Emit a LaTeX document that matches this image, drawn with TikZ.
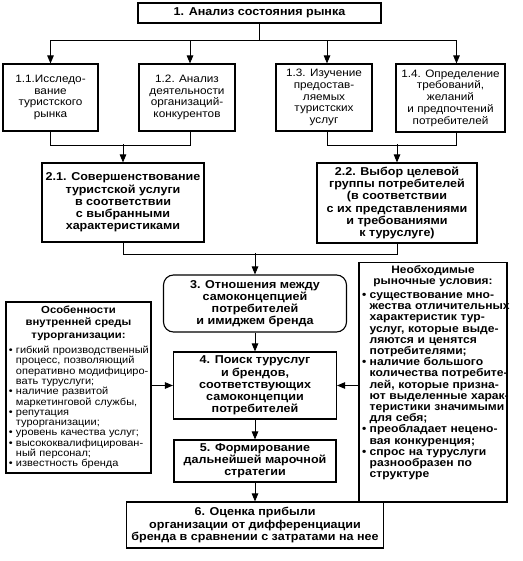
\documentclass[tikz,border=0pt]{standalone}
\usepackage{fontspec}
\setmainfont[FakeStretch=1.1]{Liberation Sans}
\usetikzlibrary{arrows.meta}
\newcommand{\bul}[1]{\mbox{\makebox[0.7em][l]{\textbullet}#1}}
\newcommand{\cnt}[1]{\mbox{\hspace*{0.7em}#1}}

\begin{document}
\begin{tikzpicture}[x=1pt,y=-1pt,>={Triangle[length=8pt,width=6.5pt]},line width=0.9pt]
\tikzstyle{box}=[draw,line width=1.1pt,align=center,inner sep=2pt]
\tikzstyle{sub}=[box,font=\fontsize{10.7}{11.7}\selectfont]
\tikzstyle{main}=[box,font=\fontsize{11.4}{12.2}\selectfont\bfseries]
\tikzstyle{side}=[box,align=left,inner xsep=3pt]
\useasboundingbox (0,0) rectangle (522,561);
\node[main,minimum width=243pt,minimum height=20pt] (an) at (259.5,13) {1. Анализ состояния рынка};
\node[sub,minimum width=95pt,minimum height=67pt] (res) at (50.5,97.5) {1.1.Исследо-\\вание\\туристского\\рынка};
\node[sub,minimum width=96pt,minimum height=67pt] (comp) at (187,97.5) {1.2. Анализ\\деятельности\\организаций-\\конкурентов};
\node[sub,minimum width=96pt,minimum height=67pt] (serv) at (324,97.5) {1.3. Изучение\\предостав-\\ляемых\\туристских\\услуг};
\node[sub,minimum width=109pt,minimum height=68pt] (req) at (450.5,98) {1.4. Определение\\требований,\\желаний\\и предпочтений\\потребителей};
\node[main,minimum width=162pt,minimum height=79pt] (impr) at (123,202.5) {2.1. Совершенствование\\туристской услуги\\в соответствии\\с выбранными\\характеристиками};
\node[main,minimum width=160pt,minimum height=80pt] (tgt) at (397,203) {2.2. Выбор целевой\\группы потребителей\\(в соответствии\\с их представлениями\\и требованиями\\к туруслуге)};
\node[main,rounded corners=10pt,minimum width=183pt,minimum height=57pt] (rel) at (255,303.5) {3. Отношения между\\самоконцепцией\\потребителей\\и имиджем бренда};
\node[main,minimum width=163pt,minimum height=67pt] (srch) at (255,385.5) {4. Поиск туруслуг\\и брендов,\\соответствующих\\самоконцепции\\потребителей};
\node[main,minimum width=162pt,minimum height=42pt] (strat) at (255,461) {5. Формирование\\дальнейшей марочной\\стратегии};
\node[main,minimum width=257pt,minimum height=46pt] (prof) at (255,525) {6. Оценка прибыли\\организации от дифференциации\\бренда в сравнении с затратами на нее};
\node[side,text width=139pt,minimum height=171pt,font=\fontsize{10}{10.3}\selectfont] (inner) at (78.5,387.5) {{\centering\fontsize{10.3}{12.3}\selectfont\bfseries Особенности\\внутренней среды\\турорганизации:\par}\vspace{5pt}
\bul{гибкий производственный}\\\cnt{процесс, позволяющий}\\\cnt{оперативно модифициро-}\\\cnt{вать туруслуги;}\\
\bul{наличие развитой}\\\cnt{маркетинговой службы,}\\
\bul{репутация}\\\cnt{турорганизации;}\\
\bul{уровень качества услуг;}\\
\bul{высококвалифицирован-}\\\cnt{ный персонал;}\\
\bul{известность бренда}};
\node[side,text width=142pt,anchor=north,inner ysep=3pt,font=\fontsize{11}{11.2}\selectfont\bfseries] (mkt) at (433,262) {{\centering\fontsize{10.8}{10.8}\selectfont Необходимые\\рыночные условия:\par}\vspace{3pt}
\bul{существование мно-}\\\cnt{жества отличительных}\\\cnt{характеристик тур-}\\\cnt{услуг, которые выде-}\\\cnt{ляются и ценятся}\\\cnt{потребителями;}\\
\bul{наличие большого}\\\cnt{количества потребите-}\\\cnt{лей, которые призна-}\\\cnt{ют выделенные харак-}\\\cnt{теристики значимыми}\\\cnt{для себя;}\\
\bul{преобладает нецено-}\\\cnt{вая конкуренция;}\\
\bul{спрос на туруслуги}\\\cnt{разнообразен по}\\\cnt{структуре}\par\vspace{19pt}\hrule height 0pt};
\draw (an.south) -- ++(0,17) coordinate (split);
\draw[->] (split) -| (res.north);
\draw[->] (split) -| ([xshift=3pt]comp.north);
\draw[->] (split) -| ([xshift=3pt]serv.north);
\draw[->] (split) -| ([xshift=6pt]req.north);
\draw (res.south) -- ++(0,14) -| ([xshift=3pt]comp.south);
\draw (serv.south) ++(3pt,0) -- ++(0,14) -| ([xshift=6pt]req.south);
\draw[->] (impr.north) ++(0,-18) -- (impr.north);
\draw[->] (tgt.north) ++(0,-18) -- (tgt.north);
\draw (impr.south) -- ++(0,12) -| (tgt.south);
\draw[->] (rel.north) ++(0,-21) -- (rel.north);
\draw[->] (rel) -- (srch);
\draw[->] (srch) -- (strat);
\draw[->] (strat) -- (prof);
\draw[->] (inner.east |- srch.west) -- (srch.west);
\draw[->] (mkt.west |- srch.east) -- (srch.east);
\end{tikzpicture}
\end{document}
